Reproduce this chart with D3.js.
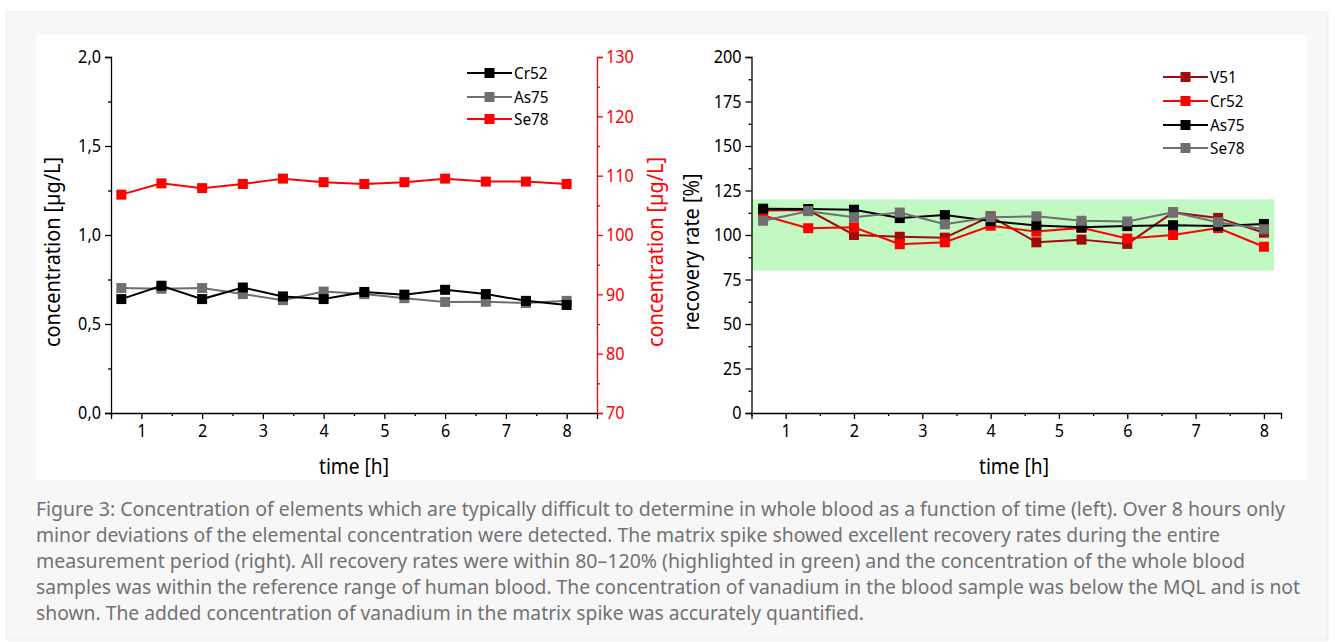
<!DOCTYPE html>
<html><head><meta charset="utf-8">
<script src="https://cdn.jsdelivr.net/npm/d3@7/dist/d3.min.js"></script>
<style>body{margin:0;background:#fff;} svg{display:block}</style>
</head><body>
<svg id="c" width="1335" height="642"></svg>
<script>
// ---------- data ----------
const times = [0.67, 1.33, 2, 2.67, 3.33, 4, 4.67, 5.33, 6, 6.67, 7.33, 8];
// left chart: concentration [µg/L]
const concCr52 = [0.64, 0.715, 0.64, 0.705, 0.655, 0.64, 0.68, 0.665, 0.692, 0.668, 0.63, 0.607];
const concAs75 = [0.702, 0.698, 0.702, 0.668, 0.634, 0.682, 0.668, 0.645, 0.624, 0.625, 0.618, 0.63];
const concSe78 = [106.8, 108.7, 107.9, 108.6, 109.5, 108.9, 108.6, 108.9, 109.5, 109.0, 109.0, 108.6];
// right chart: recovery rate [%]
const recV51  = [113.8, 114.0, 100.0, 99.0, 98.5, 110.5, 95.9, 97.4, 95.0, 112.7, 109.6, 101.3];
const recCr52 = [111.0, 103.8, 104.3, 94.8, 95.9, 105.2, 101.9, 104.0, 98.0, 100.0, 103.9, 93.4];
const recAs75 = [114.8, 114.6, 114.2, 109.5, 111.2, 107.8, 105.3, 104.3, 105.0, 105.5, 105.0, 106.2];
const recSe78 = [108.0, 113.4, 110.0, 112.6, 106.0, 110.0, 110.5, 108.0, 107.6, 112.7, 107.2, 103.2];
const recBand = [80, 120];
const xTicks = [1, 2, 3, 4, 5, 6, 7, 8];
const xMinor = [0.5, 1.5, 2.5, 3.5, 4.5, 5.5, 6.5, 7.5];
const concTicks = [0, 0.5, 1.0, 1.5, 2.0];
const concMinor = [0.25, 0.75, 1.25, 1.75];
const se78Ticks = [70, 80, 90, 100, 110, 120, 130];
const se78Minor = [75, 85, 95, 105, 115, 125];
const recTicks = [0, 25, 50, 75, 100, 125, 150, 175, 200];
const recMinor = [12.5, 37.5, 62.5, 87.5, 112.5, 137.5, 162.5, 187.5];
const leftLegend = ["Cr52", "As75", "Se78"];
const rightLegend = ["V51", "Cr52", "As75", "Se78"];
const captionLines = [
  "Figure 3: Concentration of elements which are typically difficult to determine in whole blood as a function of time (left). Over 8 hours only",
  "minor deviations of the elemental concentration were detected. The matrix spike showed excellent recovery rates during the entire",
  "measurement period (right). All recovery rates were within 80\u2013120% (highlighted in green) and the concentration of the whole blood",
  "samples was within the reference range of human blood. The concentration of vanadium in the blood sample was below the MQL and is not",
  "shown. The added concentration of vanadium in the matrix spike was accurately quantified."
];
const captionEnds = [1285, 1220, 1245, 1300, 864];

// ---------- style ----------
const FONT = "'Noto Sans', 'DejaVu Sans', sans-serif";
const C_BLACK = "#000000", C_GRAY = "#6f6f6f", C_RED = "#ff0000", C_DRED = "#a00c0c";
const svg = d3.select("#c");

svg.append("rect").attr("x", 6).attr("y", 12).attr("width", 1322).attr("height", 628)
   .attr("fill", "#f7f7f7").attr("stroke", "#ededed");
svg.append("rect").attr("x", 36).attr("y", 35).attr("width", 1270).attr("height", 445).attr("fill", "#fff");

const fmtComma = d => d3.format(".1f")(d).replace(".", ",");

// squeeze text horizontally (condensed look)
function condense(sel, k) {
  sel.each(function () {
    const w = this.getComputedTextLength();
    d3.select(this).attr("textLength", w * k).attr("lengthAdjust", "spacingAndGlyphs");
  });
}

function styleAxis(g, color, size) {
  g.select(".domain").attr("stroke", color).attr("stroke-width", 1.3);
  g.selectAll(".tick line").attr("stroke", color).attr("stroke-width", 1.3);
  const t = g.selectAll(".tick text").attr("fill", color).attr("font-family", FONT).attr("font-size", size);
  condense(t, 0.9);
}

// ---------- left chart ----------
const xL = d3.scaleLinear().domain([0.5, 8.5]).range([111, 597]);
const yL = d3.scaleLinear().domain([0, 2]).range([413, 57]);
const yR = d3.scaleLinear().domain([70, 130]).range([413, 57]);

function minorAxis(axisFn, scale, vals, tr, color) {
  const g = svg.append("g").attr("transform", tr)
    .call(axisFn(scale).tickValues(vals).tickFormat("").tickSize(3));
  g.select(".domain").remove();
  g.selectAll(".tick line").attr("stroke", color).attr("stroke-width", 1.3);
}

minorAxis(d3.axisLeft, yL, concMinor, "translate(111,0)", C_BLACK);
styleAxis(svg.append("g").attr("transform", "translate(111,0)")
  .call(d3.axisLeft(yL).tickValues(concTicks).tickFormat(fmtComma).tickSize(6).tickPadding(4)), C_BLACK, 18);
minorAxis(d3.axisRight, yR, se78Minor, "translate(597,0)", C_RED);
styleAxis(svg.append("g").attr("transform", "translate(597,0)")
  .call(d3.axisRight(yR).tickValues(se78Ticks).tickSize(6).tickPadding(3)), C_RED, 18);
minorAxis(d3.axisBottom, xL, xMinor, "translate(0,413)", C_BLACK);
styleAxis(svg.append("g").attr("transform", "translate(0,413)")
  .call(d3.axisBottom(xL).tickValues(xTicks).tickSize(6).tickPadding(5)), C_BLACK, 18);

function series(xs, ys, vals, color) {
  const pts = times.map((t, i) => [xs(t), ys(vals[i])]);
  svg.append("path").attr("d", d3.line()(pts)).attr("fill", "none")
     .attr("stroke", color).attr("stroke-width", 2);
  svg.append("g").selectAll("rect").data(pts).join("rect")
     .attr("x", d => d[0] - 5).attr("y", d => d[1] - 5).attr("width", 10).attr("height", 10)
     .attr("fill", color);
}
series(xL, yL, concAs75, C_GRAY);
series(xL, yL, concCr52, C_BLACK);
series(xL, yR, concSe78, C_RED);

function legend(names, colors, x0, ys) {
  names.forEach((n, i) => {
    const g = svg.append("g");
    g.append("line").attr("x1", x0).attr("x2", x0 + 45).attr("y1", ys[i]).attr("y2", ys[i])
     .attr("stroke", colors[i]).attr("stroke-width", 2);
    g.append("rect").attr("x", x0 + 17.5).attr("y", ys[i] - 5).attr("width", 10).attr("height", 10).attr("fill", colors[i]);
    const t = g.append("text").attr("x", x0 + 47).attr("y", ys[i]).attr("dy", "0.36em")
     .attr("font-family", FONT).attr("font-size", 17).text(n);
    condense(t, 0.9);
  });
}
legend(leftLegend, [C_BLACK, C_GRAY, C_RED], 467, [73, 97, 119]);

function rotLabel(x, y, txt, color, len) {
  svg.append("text").attr("transform", `translate(${x},${y}) rotate(-90)`)
    .attr("text-anchor", "middle").attr("font-family", FONT).attr("font-size", 21)
    .attr("fill", color).attr("textLength", len).attr("lengthAdjust", "spacingAndGlyphs").text(txt);
}
function xTitle(x, txt) {
  svg.append("text").attr("x", x).attr("y", 474).attr("text-anchor", "middle")
   .attr("font-family", FONT).attr("font-size", 21)
   .attr("textLength", 70).attr("lengthAdjust", "spacingAndGlyphs").text(txt);
}
rotLabel(60, 252, "concentration [\u00b5g/L]", C_BLACK, 190);
rotLabel(663, 252, "concentration [\u00b5g/L]", C_RED, 190);
xTitle(354, "time [h]");

// ---------- right chart ----------
const xR2 = d3.scaleLinear().domain([0.5, 8.25]).range([751.5, 1281]);
const yRec = d3.scaleLinear().domain([0, 200]).range([413, 57]);

svg.append("rect").attr("x", xR2(0.5)).attr("y", yRec(recBand[1]))
   .attr("width", xR2(8.15) - xR2(0.5)).attr("height", yRec(recBand[0]) - yRec(recBand[1]))
   .attr("fill", "#c2f9c2");

minorAxis(d3.axisLeft, yRec, recMinor, "translate(751.5,0)", C_BLACK);
styleAxis(svg.append("g").attr("transform", "translate(751.5,0)")
  .call(d3.axisLeft(yRec).tickValues(recTicks).tickSize(6).tickPadding(4)), C_BLACK, 18);
minorAxis(d3.axisBottom, xR2, xMinor, "translate(0,413)", C_BLACK);
styleAxis(svg.append("g").attr("transform", "translate(0,413)")
  .call(d3.axisBottom(xR2).tickValues(xTicks).tickSize(6).tickPadding(5)), C_BLACK, 18);

series(xR2, yRec, recV51, C_DRED);
series(xR2, yRec, recCr52, C_RED);
series(xR2, yRec, recAs75, C_BLACK);
series(xR2, yRec, recSe78, C_GRAY);

legend(rightLegend, [C_DRED, C_RED, C_BLACK, C_GRAY], 1163, [77, 101, 125, 148]);
rotLabel(699, 252, "recovery rate [%]", C_BLACK, 157);
xTitle(1014, "time [h]");

// ---------- caption ----------
captionLines.forEach((line, i) => {
  svg.append("text").attr("x", 36).attr("y", 516 + i * 26)
    .attr("font-family", FONT).attr("font-size", 19.5).attr("fill", "#727272")
    .attr("textLength", captionEnds[i] - 36).attr("lengthAdjust", "spacingAndGlyphs")
    .text(line);
});
</script>
</body></html>
